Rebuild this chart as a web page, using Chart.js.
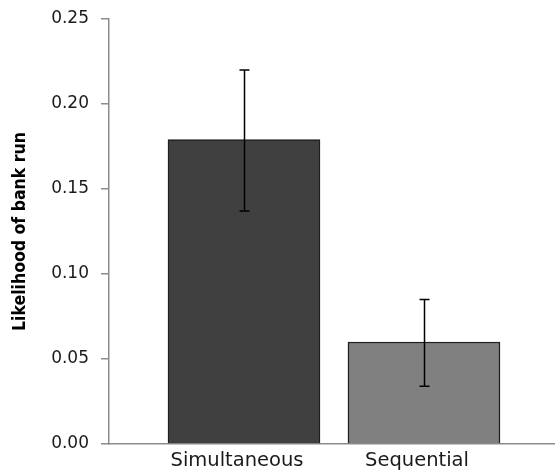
<!DOCTYPE html>
<html>
<head>
<meta charset="utf-8">
<script src="https://cdn.jsdelivr.net/npm/chart.js@4"></script>
<style>
  html, body { margin: 0; padding: 0; background: #fff; }
  #wrap { width: 555px; height: 471px; }
</style>
</head>
<body>
<div id="wrap"><canvas id="chart" width="555" height="471"></canvas></div>
<script>
const categories = ["Simultaneous", "Sequential"];
const values = [0.179, 0.060];
const errUpper = [0.220, 0.085];
const errLower = [0.137, 0.034];
const barColors = ["#404040", "#808080"];
const yTicks = [0, 0.05, 0.1, 0.15, 0.2, 0.25];

const AXIS_GREY = "#8c8c8c";
const FONT = "'DejaVu Sans', Verdana, sans-serif";
const TITLE_FONT = "'DejaVu Sans Condensed', 'DejaVu Sans', sans-serif";

// whiskers drawn from the error arrays through the chart scales
const errorBars = {
  id: "errorBars",
  afterDatasetsDraw(chart) {
    const { ctx, scales } = chart;
    ctx.save();
    ctx.strokeStyle = "#000";
    ctx.lineWidth = 1.5;
    categories.forEach((c, i) => {
      const x = Math.round(scales.x.getPixelForValue(i + 1)) + 0.5;
      const yTop = scales.y.getPixelForValue(errUpper[i]);
      const yBot = scales.y.getPixelForValue(errLower[i]);
      ctx.beginPath();
      ctx.moveTo(x, yTop);
      ctx.lineTo(x, yBot);
      ctx.moveTo(x - 5, yTop);
      ctx.lineTo(x + 5, yTop);
      ctx.moveTo(x - 5, yBot);
      ctx.lineTo(x + 5, yBot);
      ctx.stroke();
    });
    ctx.restore();
  },
};

const ctx = document.getElementById("chart").getContext("2d");
new Chart(ctx, {
  type: "bar",
  data: {
    datasets: [{
      data: categories.map((c, i) => ({ x: i + 1, y: values[i] })),
      backgroundColor: barColors,
      borderColor: "#1e1e1e",
      borderWidth: 1.5,
      barThickness: 152,
    }],
  },
  options: {
    responsive: false,
    animation: false,
    layout: { padding: { top: 19, right: 0, left: 0, bottom: 0 } },
    plugins: { legend: { display: false }, tooltip: { enabled: false } },
    scales: {
      x: {
        type: "linear",
        offset: false,
        bounds: "data",
        min: 0.25,
        max: 2.728,
        afterBuildTicks: (s) => { s.ticks = categories.map((c, i) => ({ value: i + 1 })); },
        afterFit: (s) => { s.height = 27; },
        ticks: {
          callback: (v) => categories[v - 1] || "",
          color: "#1a1a1a",
          font: { family: FONT, size: 19.5 },
          padding: 5,
          labelOffset: -7,
          maxRotation: 0,
          autoSkip: false,
        },
        grid: { display: false, drawTicks: false },
        border: { display: true, color: AXIS_GREY, width: 1.5 },
      },
      y: {
        min: 0,
        max: 0.25,
        afterBuildTicks: (s) => { s.ticks = yTicks.map((v) => ({ value: v })); },
        afterFit: (s) => { s.width = 109; s.paddingTop = 0; s.paddingBottom = 0; },
        ticks: {
          callback: (v) => v.toFixed(2),
          color: "#1a1a1a",
          font: { family: FONT, size: 17 },
          padding: 12,
        },
        grid: { drawOnChartArea: false, tickLength: 8, color: AXIS_GREY, lineWidth: 1.5 },
        border: { display: true, color: AXIS_GREY, width: 1.5 },
        title: {
          display: true,
          text: "Likelihood of bank run",
          color: "#000",
          font: { family: TITLE_FONT, size: 17.5, weight: "bold" },
          padding: { top: 10, bottom: 0 },
        },
      },
    },
  },
  plugins: [errorBars],
});
</script>
</body>
</html>
